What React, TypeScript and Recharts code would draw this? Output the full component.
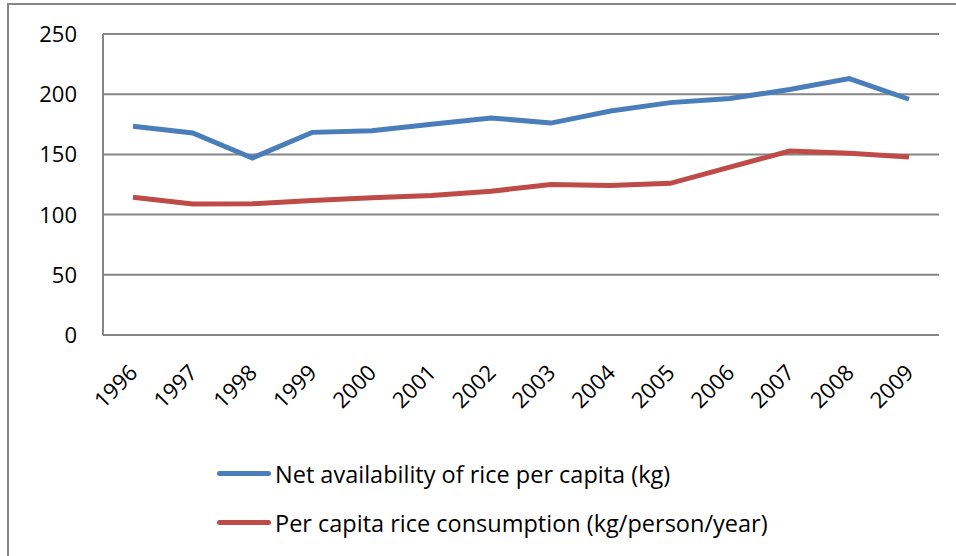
import { LineChart, Line, XAxis, YAxis, CartesianGrid } from 'recharts';

const years = ['1996', '1997', '1998', '1999', '2000', '2001', '2002', '2003', '2004', '2005', '2006', '2007', '2008', '2009'];
const netAvailability = [173.3, 167.8, 147, 168.3, 169.7, 175, 180.3, 176, 186, 193, 196.4, 203.9, 213, 195.8];
const consumption = [114.4, 108.9, 109, 111.7, 113.9, 115.8, 119.4, 125, 124.2, 126, 139.4, 152.8, 151, 147.8];
const yTicks = [0, 50, 100, 150, 200, 250];

const seriesNames = {
  net: 'Net availability of rice per capita (kg)',
  cons: 'Per capita rice consumption (kg/person/year)',
};

const COLORS = {
  net: '#4A7EBB',
  cons: '#BE4B48',
  grid: '#868686',
};

const FONT = '"Open Sans", "Noto Sans", sans-serif';

const data = years.map((year, i) => ({
  year,
  net: netAvailability[i],
  cons: consumption[i],
}));

const YTick = ({ x, y, payload }: { x?: number; y?: number; payload?: { value: number } }) => (
  <text x={(x ?? 0) - 18} y={y} dy="0.36em" textAnchor="end" fontSize={22} fill="#000" fontFamily={FONT}>
    {payload?.value}
  </text>
);

const XTick = ({ x, y, payload }: { x?: number; y?: number; payload?: { value: string } }) => {
  const tx = (x ?? 0) + 6;
  const ty = (y ?? 0) + 31;
  return (
    <text x={tx} y={ty} textAnchor="end" fontSize={22} fill="#000" fontFamily={FONT} transform={`rotate(-45 ${tx} ${ty})`}>
      {payload?.value}
    </text>
  );
};

function ChartLegend() {
  return (
    <div style={{ position: 'absolute', left: 217, top: 449, fontFamily: FONT, fontSize: 23.5, color: '#000' }}>
      {(['net', 'cons'] as const).map((key) => (
        <div key={key} style={{ display: 'flex', alignItems: 'center', height: 49 }}>
          <span style={{ display: 'inline-block', width: 54, height: 5, borderRadius: 3, background: COLORS[key], marginRight: 4 }} />
          <span>{seriesNames[key]}</span>
        </div>
      ))}
    </div>
  );
}

export default function App() {
  return (
    <div style={{ position: 'absolute', left: 0, top: 0, width: 956, height: 556, overflow: 'hidden', background: '#fff' }}>
      <div
        style={{
          position: 'absolute',
          left: 7,
          top: 3,
          width: 1000,
          height: 600,
          borderLeft: `2px solid ${COLORS.grid}`,
          borderTop: `2px solid ${COLORS.grid}`,
        }}
      />
      <LineChart width={956} height={556} data={data} margin={{ top: 34, right: 17, left: 0, bottom: 191 }}>
        <CartesianGrid vertical={false} stroke={COLORS.grid} strokeWidth={2} />
        <XAxis
          dataKey="year"
          height={30}
          interval={0}
          padding={{ left: 30, right: 30 }}
          axisLine={{ stroke: COLORS.grid, strokeWidth: 2 }}
          tickLine={false}
          tick={<XTick />}
        />
        <YAxis
          width={103}
          domain={[0, 250]}
          ticks={yTicks}
          axisLine={{ stroke: COLORS.grid, strokeWidth: 2 }}
          tickLine={false}
          tick={<YTick />}
        />
        <Line dataKey="net" name={seriesNames.net} stroke={COLORS.net} strokeWidth={5} dot={false} isAnimationActive={false} />
        <Line dataKey="cons" name={seriesNames.cons} stroke={COLORS.cons} strokeWidth={5} dot={false} isAnimationActive={false} />
      </LineChart>
      <ChartLegend />
    </div>
  );
}
